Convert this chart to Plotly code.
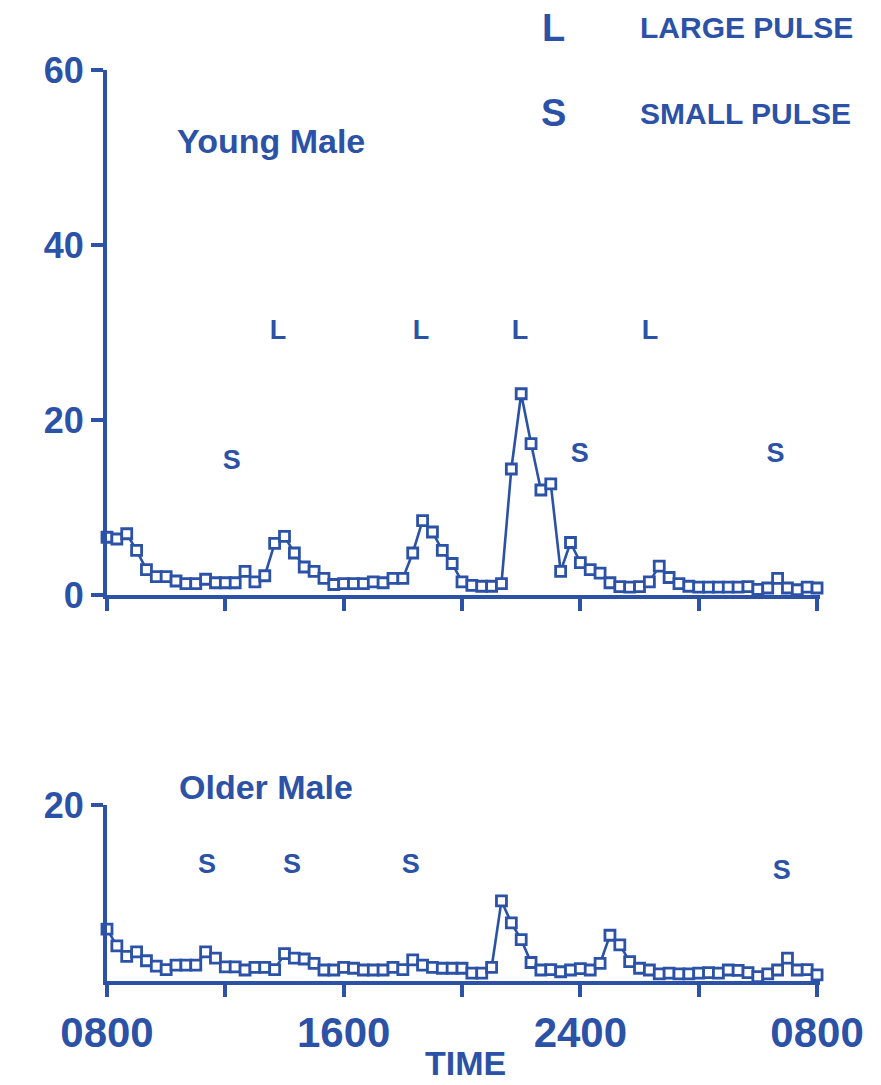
import plotly.graph_objects as go

# ---- data (hours after 0800, sampled every 20 min) ----
young_vals = [
    6.6, 6.4, 7.0, 5.1, 2.9, 2.1, 2.1, 1.6, 1.3, 1.3,
    1.8, 1.4, 1.4, 1.4, 2.7, 1.5, 2.2, 5.9, 6.7, 4.8,
    3.2, 2.7, 1.9, 1.2, 1.3, 1.3, 1.3, 1.5, 1.4, 1.9,
    1.9, 4.8, 8.5, 7.2, 5.1, 3.6, 1.5, 1.1, 1.0, 1.0,
    1.3, 14.4, 23.0, 17.3, 12.0, 12.7, 2.7, 6.0, 3.7, 2.9,
    2.5, 1.4, 0.95, 0.9, 0.95, 1.5, 3.3, 2.0, 1.3, 1.0,
    0.9, 0.9, 0.9, 0.9, 0.9, 0.95, 0.65, 0.8, 1.9, 0.8,
    0.6, 0.9, 0.8,
]
older_vals = [
    5.9, 4.0, 2.8, 3.3, 2.3, 1.7, 1.3, 1.8, 1.8, 1.8,
    3.3, 2.6, 1.6, 1.6, 1.25, 1.55, 1.55, 1.3, 3.1, 2.6,
    2.5, 2.0, 1.25, 1.25, 1.55, 1.45, 1.25, 1.25, 1.25, 1.55,
    1.3, 2.4, 1.8, 1.55, 1.45, 1.45, 1.45, 0.9, 0.9, 1.55,
    9.1, 6.6, 4.7, 2.1, 1.25, 1.3, 1.05, 1.25, 1.4, 1.25,
    2.0, 5.2, 4.1, 2.2, 1.45, 1.25, 0.8, 0.9, 0.8, 0.8,
    0.9, 0.95, 0.9, 1.25, 1.2, 0.95, 0.5, 0.8, 1.25, 2.6,
    1.25, 1.3, 0.7,
]
young_hours = [i / 3 for i in range(len(young_vals))]
older_hours = [i / 3 for i in range(len(older_vals))]

# pulse labels
young_pulse_x = [5.78, 10.61, 13.96, 18.35, 4.22, 15.98, 22.6]
young_pulse_y = [30, 30, 30, 30, 15.2, 16, 16]
young_pulse_t = ["L", "L", "L", "L", "S", "S", "S"]
older_pulse_x = [13.11, 16.83, 3.38, 6.25, 10.27, 22.81]
older_pulse_y = [20.6, 20.3, 13, 13, 13, 12.4]
older_pulse_t = ["L", "L", "S", "S", "S", "S"]

x_tickvals = [0, 4, 8, 12, 16, 20, 24]
x_ticktext = ["0800", "", "1600", "", "2400", "", "0800"]
young_yticks = [0, 20, 40, 60]
older_yticks = [20]

BLUE = "#2B52A6"
FONT = "Liberation Sans"

fig = go.Figure()

marker = dict(symbol="square", size=10, color="white", line=dict(color=BLUE, width=2.8))

fig.add_trace(go.Scatter(x=young_hours, y=young_vals, mode="lines+markers",
                         line=dict(color=BLUE, width=2.6), marker=marker,
                         xaxis="x", yaxis="y", cliponaxis=False, showlegend=False))
fig.add_trace(go.Scatter(x=older_hours, y=older_vals, mode="lines+markers",
                         line=dict(color=BLUE, width=2.6), marker=marker,
                         xaxis="x2", yaxis="y2", cliponaxis=False, showlegend=False))
fig.add_trace(go.Scatter(x=young_pulse_x, y=young_pulse_y, text=young_pulse_t, mode="text",
                         textfont=dict(family=FONT, size=27, color=BLUE, weight="bold"),
                         xaxis="x", yaxis="y", cliponaxis=False, showlegend=False))
fig.add_trace(go.Scatter(x=older_pulse_x, y=older_pulse_y, text=older_pulse_t, mode="text",
                         textfont=dict(family=FONT, size=27, color=BLUE, weight="bold"),
                         xaxis="x2", yaxis="y2", cliponaxis=False, showlegend=False))

axis_common = dict(showgrid=False, zeroline=False, showline=True, linecolor=BLUE, linewidth=4,
                   ticks="outside", ticklen=12, tickwidth=3.5, tickcolor=BLUE)

W, H = 881, 1085
L, R, T, B = 107, 61, 40, 104
ph = H - T - B

def ydom(px_top, px_bot):
    return [(H - B - px_bot) / ph, (H - B - px_top) / ph]

fig.update_layout(
    width=W, height=H, margin=dict(l=L, r=R, t=T, b=B),
    paper_bgcolor="white", plot_bgcolor="white",
    xaxis=dict(**axis_common, range=[0, 24.1], tickvals=x_tickvals, showticklabels=False,
               anchor="y"),
    yaxis=dict(**axis_common, range=[0, 60], tickvals=young_yticks, domain=ydom(70, 595),
               tickfont=dict(family=FONT, size=36, color=BLUE, weight="bold"), anchor="x"),
    xaxis2=dict(**axis_common, range=[0, 24.1], tickvals=x_tickvals, ticktext=x_ticktext,
                tickfont=dict(family=FONT, size=42, color=BLUE, weight="bold"), anchor="y2"),
    yaxis2=dict(**axis_common, range=[0, 20], tickvals=older_yticks, domain=ydom(805, 981),
                tickfont=dict(family=FONT, size=36, color=BLUE, weight="bold"), anchor="x2"),
)

def px(x):
    return (x - L) / (W - L - R)

def py(y):
    return (H - B - y) / ph

def ann(text, x, y, size, xanchor="center"):
    fig.add_annotation(text=text, x=px(x), y=py(y), xref="paper", yref="paper",
                       xanchor=xanchor, yanchor="middle", showarrow=False,
                       font=dict(family=FONT, size=size, color=BLUE, weight="bold"))

ann("Young Male", 271, 141, 34)
ann("Older Male", 266, 787, 34)
ann("L", 553, 28, 38)
ann("LARGE PULSE", 638, 28, 30, "left")
ann("S", 553, 113, 38)
ann("SMALL PULSE", 638, 114, 30, "left")
ann("TIME", 465, 1063, 34)

fig.write_html("out.html")
